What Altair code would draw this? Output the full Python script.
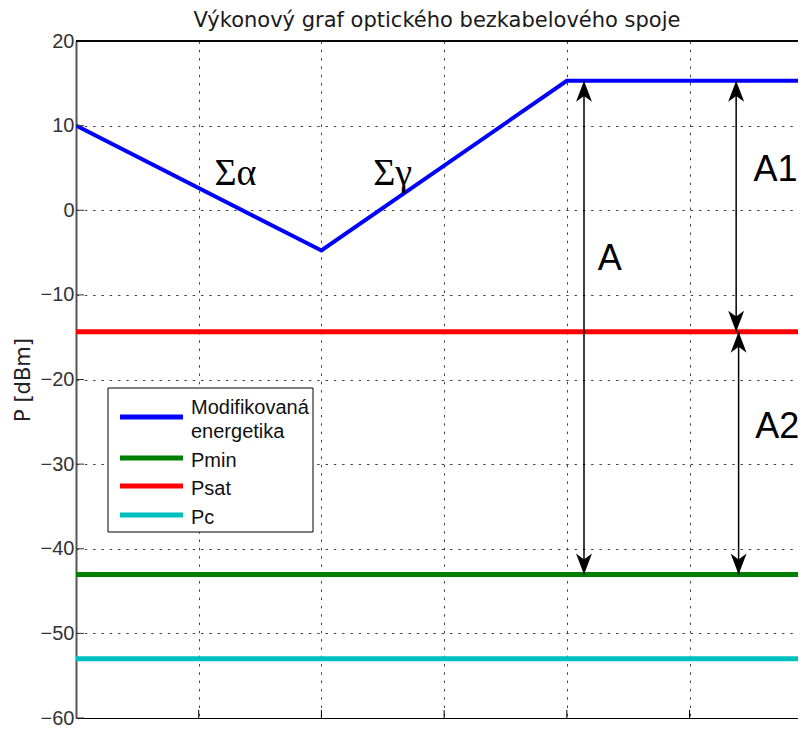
import altair as alt
import pandas as pd

# ---------------- data ----------------
title_text = "Výkonový graf optického bezkabelového spoje"
y_title = "P [dBm]"

series_names = ["Modifikovaná energetika", "Pmin", "Psat", "Pc"]
series_colors = ["#0000FF", "#008000", "#FF0000", "#00BFBF"]

curve_x = [0, 2, 4, 6]
curve_y = [10, -4.75, 15.3, 15.3]

level_names = ["Pmin", "Psat", "Pc"]
level_values = [-43.05, -14.35, -53.0]

y_ticks = [20, 10, 0, -10, -20, -30, -40, -50, -60]
x_grid = [1, 2, 3, 4, 5]
x_domain = [0, 5.884]
y_domain = [-60, 20]

arrow_x = [4.14, 5.38, 5.40]
arrow_top = [15.3, 15.3, -14.35]
arrow_bottom = [-43.05, -14.35, -43.05]

greek_text = ["Σα", "Σγ"]
greek_x = [1.30, 2.58]
greek_y = [2.95, 2.95]

letter_text = ["A", "A1", "A2"]
letter_x = [4.35, 5.70, 5.715]
letter_y = [-7.1, 3.45, -26.9]

# ---------------- layout (pixels inside the plot area) ----------------
W, H = 722, 677
LEG_BOX = (32, 237, 347, 491)          # x1, x2, y1, y2
LEG_SYM_X = (44, 107)
LEG_TEXT_X = 115
LEG_SYM_Y = [376, 417, 445, 474]       # one per series
LEG_TEXT_Y = [373, 426, 454, 483]      # first-line baselines

xs = alt.Scale(domain=x_domain, nice=False, zero=False)
ys = alt.Scale(domain=y_domain, nice=False, zero=False)

x_axis = alt.Axis(values=x_grid, labels=False, ticks=False, title=None, grid=True,
                  domainColor="black", domainWidth=1)
y_axis = alt.Axis(values=y_ticks, title=y_title, grid=True, ticks=False, tickSize=0,
                  labelPadding=2, domainColor="#555555", domainWidth=2,
                  titleFont="DejaVu Sans", titleFontSize=21, titleFontWeight="normal",
                  titleColor="#222222", titlePadding=7)

color_enc = alt.Color("series:N",
                      scale=alt.Scale(domain=series_names, range=series_colors),
                      legend=None)

curve_df = pd.DataFrame({"x": curve_x, "y": curve_y, "series": series_names[0]})
levels_df = pd.DataFrame({"y": level_values, "series": level_names})
arrows_df = pd.DataFrame({"x": arrow_x, "top": arrow_top, "bottom": arrow_bottom})
greek_df = pd.DataFrame({"x": greek_x, "y": greek_y, "t": greek_text})
letters_df = pd.DataFrame({"x": letter_x, "y": letter_y, "t": letter_text})
yt_df = pd.DataFrame({"y": y_ticks})
xt_df = pd.DataFrame({"x": x_grid})

X = alt.X("x:Q", scale=xs, axis=x_axis)
Y = alt.Y("y:Q", scale=ys, axis=y_axis)

levels = alt.Chart(levels_df).mark_rule(strokeWidth=5).encode(y=Y, color=color_enc)
curve = alt.Chart(curve_df).mark_line(strokeWidth=4, clip=True).encode(x=X, y=Y, color=color_enc)

arrow_lines = alt.Chart(arrows_df).mark_rule(color="black", strokeWidth=1.5).encode(
    x=X, y=alt.Y("top:Q", scale=ys, axis=y_axis), y2="bottom:Q")

UP = "M0,0 L0.38,1 L0,0.72 L-0.38,1 Z"
DOWN = "M0,0 L0.38,-1 L0,-0.72 L-0.38,-1 Z"
heads_up = alt.Chart(arrows_df).mark_point(shape=UP, filled=True, size=1764, color="black",
                                           opacity=1).encode(
    x=X, y=alt.Y("top:Q", scale=ys, axis=y_axis))
heads_down = alt.Chart(arrows_df).mark_point(shape=DOWN, filled=True, size=1764, color="black",
                                             opacity=1).encode(
    x=X, y=alt.Y("bottom:Q", scale=ys, axis=y_axis))

greek = alt.Chart(greek_df).mark_text(font="Liberation Serif", fontSize=38, align="center",
                                      baseline="alphabetic", color="black").encode(x=X, y=Y, text="t:N")
letters = alt.Chart(letters_df).mark_text(font="Liberation Sans", fontSize=36, align="center",
                                          baseline="alphabetic", color="black").encode(x=X, y=Y, text="t:N")

left_ticks = alt.Chart(yt_df).mark_rule(color="#333333", strokeWidth=1).encode(
    y=Y, x=alt.value(0), x2=alt.value(8))
bottom_ticks = alt.Chart(xt_df).mark_rule(color="black", strokeWidth=1).encode(
    x=X, y=alt.value(H - 8), y2=alt.value(H))
top_border = alt.Chart(xt_df).mark_rule(color="black", strokeWidth=1).encode(
    x=alt.value(0), x2=alt.value(W), y=alt.value(0))

# ---- legend (drawn as a boxed key) ----
legend_layers = [
    alt.Chart(pd.DataFrame({"k": [0]})).mark_rect(fill="white", stroke="black", strokeWidth=1).encode(
        x=alt.value(LEG_BOX[0]), x2=alt.value(LEG_BOX[1]),
        y=alt.value(LEG_BOX[2]), y2=alt.value(LEG_BOX[3]))
]
for name, sy, ty in zip(series_names, LEG_SYM_Y, LEG_TEXT_Y):
    row = pd.DataFrame({"series": [name]})
    legend_layers.append(
        alt.Chart(row).mark_rule(strokeWidth=5).encode(
            x=alt.value(LEG_SYM_X[0]), x2=alt.value(LEG_SYM_X[1]), y=alt.value(sy),
            color=color_enc))
    legend_layers.append(
        alt.Chart(row).mark_text(font="Liberation Sans", fontSize=20, align="left",
                                 baseline="alphabetic", color="#111111",
                                 lineBreak=" ", lineHeight=24).encode(
            x=alt.value(LEG_TEXT_X), y=alt.value(ty), text="series:N"))

chart = alt.layer(
    levels, curve, arrow_lines, heads_up, heads_down, greek, letters,
    left_ticks, bottom_ticks, top_border, *legend_layers,
).properties(
    width=W, height=H,
    title=alt.TitleParams(title_text, font="DejaVu Sans", fontSize=21, fontWeight="normal",
                          color="#1a1a1a", offset=0, anchor="middle"),
    autosize=alt.AutoSizeParams(type="none"),
    padding={"left": 68, "top": 33, "right": 0, "bottom": 11},
).configure_view(stroke=None).configure_axis(
    gridColor="#444444", gridDash=[2.5, 5.8], gridWidth=1, gridOpacity=1,
    labelFont="Liberation Sans", labelFontSize=20, labelColor="#333333",
)

chart.save("out.html", embed_options={"renderer": "svg", "actions": False})
